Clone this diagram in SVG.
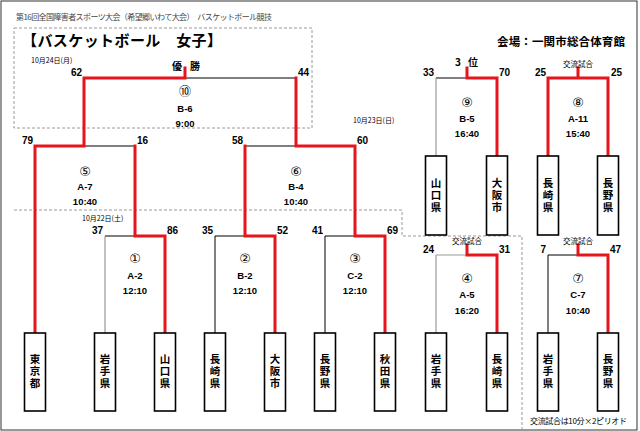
<svg xmlns="http://www.w3.org/2000/svg" width="640" height="431" viewBox="0 0 640 431">
<style>
text{font-family:"Liberation Sans","Noto Sans CJK JP",sans-serif;fill:#000}
.sc{font-size:10px;font-weight:bold}
.l{text-anchor:end}
.c{text-anchor:middle}
.mt{font-size:9.5px;font-weight:bold;text-anchor:middle}
.cn{font-size:13px;text-anchor:middle;font-family:"DejaVu Sans","Noto Sans CJK JP",sans-serif}
.cn2{font-size:12px;text-anchor:middle;font-family:"Noto Sans CJK JP",sans-serif}
.dt{font-size:7px;font-family:"Noto Sans CJK JP",sans-serif}
.ex{font-size:7.5px;text-anchor:middle;font-family:"Noto Sans CJK JP",sans-serif}
.tb rect{fill:#fff;stroke:#000;stroke-width:1.6}
.tb text{font-size:10.5px;font-weight:bold;text-anchor:middle;font-family:"Noto Sans CJK JP",sans-serif;writing-mode:vertical-rl;letter-spacing:1.5px}
.red{fill:none;stroke:#e8141b;stroke-width:3;stroke-linecap:square}
.blk{fill:none;stroke:#000;stroke-width:1}
.gry{fill:none;stroke:#999;stroke-width:1.2}
.dash{fill:none;stroke:#9a9a9a;stroke-width:1;stroke-dasharray:3 2}
</style>
<rect x="1" y="1" width="636" height="429" fill="#fff" stroke="#333" stroke-width="1"/>
<g id="frames">
<rect class="dash" x="14" y="28" width="298" height="100"/>
<path class="dash" d="M14,210 H402 V236 H522 V430"/>
</g>
<g id="header">
<text x="16" y="20" style="font-size:8px;fill:#444;font-family:'Noto Sans CJK JP',sans-serif" textLength="256">第16回全国障害者スポーツ大会（希望郷いわて大会）　バスケットボール競技</text>
<text x="22" y="46" style="font-size:15px;font-weight:bold;font-family:'Noto Sans CJK JP',sans-serif" textLength="200">【バスケットボール　女子】</text>
<text x="497" y="46" style="font-size:11.5px;font-weight:bold;font-family:'Noto Sans CJK JP',sans-serif" textLength="128">会場：一関市総合体育館</text>
<text class="dt" x="31" y="63">10月24日(月)</text>
<text class="dt" x="353" y="123">10月23日(日)</text>
<text class="dt" x="82" y="221">10月22日(土)</text>
<text x="530" y="424" style="font-size:8px;font-family:'Noto Sans CJK JP',sans-serif" textLength="97">交流試合は10分×2ピリオド</text>
</g>
<g id="connectors">
<path class="blk" d="M185,78 H296 M84,146 H135 M245,146 H296 M215,236 H245 M215,236 V333 M325,236 H355 M325,236 V333 M105,236 H135 M436,78 H467 M548,255 H578 M548,255 V333"/>
<path class="gry" d="M105,236 V333 M436,78 V156 M436,255 H467 M436,255 V333"/>
<path class="red" d="M185,68 V78 M84,78 H185 M84,78 V146 M296,78 V146 M35,146 H84 M35,146 V333 M135,146 V236 H165 V333 M296,146 H355 M245,146 V236 H275 V333 M355,146 V236 H385 V333 M467,68 V78 H497 V156 M578,68 V78 M548,78 H608 M548,78 V156 M608,78 V156 M467,245 V255 H497 V333 M578,245 V255 H608 V333"/>
</g>
<g id="m10">
<text x="172" y="70" textLength="28" style="font-size:10px;font-weight:bold;font-family:'Noto Sans CJK JP',sans-serif">優 勝</text>
<text class="sc l" x="82" y="76">62</text><text class="sc" x="298" y="76">44</text>
<text class="cn2" x="185" y="96">⑩</text><text class="mt" x="185" y="112">B-6</text><text class="mt" x="185" y="127">9:00</text>
</g>
<g id="m5">
<text class="sc l" x="33" y="144">79</text><text class="sc" x="137" y="144">16</text>
<text class="cn" x="85" y="176">⑤</text><text class="mt" x="85" y="190">A-7</text><text class="mt" x="85" y="205">10:40</text>
</g>
<g id="m6">
<text class="sc l" x="243" y="144">58</text><text class="sc" x="357" y="144">60</text>
<text class="cn" x="296" y="176">⑥</text><text class="mt" x="296" y="190">B-4</text><text class="mt" x="296" y="205">10:40</text>
</g>
<g id="m1">
<text class="sc l" x="103" y="234">37</text><text class="sc" x="167" y="234">86</text>
<text class="cn" x="135" y="263">①</text><text class="mt" x="135" y="279">A-2</text><text class="mt" x="135" y="294">12:10</text>
</g>
<g id="m2">
<text class="sc l" x="213" y="234">35</text><text class="sc" x="277" y="234">52</text>
<text class="cn" x="245" y="263">②</text><text class="mt" x="245" y="279">B-2</text><text class="mt" x="245" y="294">12:10</text>
</g>
<g id="m3">
<text class="sc l" x="323" y="234">41</text><text class="sc" x="387" y="234">69</text>
<text class="cn" x="355" y="263">③</text><text class="mt" x="355" y="279">C-2</text><text class="mt" x="355" y="294">12:10</text>
</g>
<g id="m9">
<text x="455" y="66" textLength="23" style="font-size:10px;font-weight:bold;font-family:'Noto Sans CJK JP',sans-serif">3 位</text>
<text class="sc l" x="434" y="76">33</text><text class="sc" x="499" y="76">70</text>
<text class="cn" x="467" y="107">⑨</text><text class="mt" x="467" y="122">B-5</text><text class="mt" x="467" y="137">16:40</text>
</g>
<g id="m8">
<text class="ex" x="578" y="67">交流試合</text>
<text class="sc l" x="546" y="76">25</text><text class="sc" x="611" y="76">25</text>
<text class="cn" x="578" y="107">⑧</text><text class="mt" x="578" y="122">A-11</text><text class="mt" x="578" y="137">15:40</text>
</g>
<g id="m4">
<text class="ex" x="467" y="244">交流試合</text>
<text class="sc l" x="434" y="253">24</text><text class="sc" x="499" y="253">31</text>
<text class="cn" x="467" y="283">④</text><text class="mt" x="467" y="298">A-5</text><text class="mt" x="467" y="314">16:20</text>
</g>
<g id="m7">
<text class="ex" x="578" y="244">交流試合</text>
<text class="sc l" x="546" y="253">7</text><text class="sc" x="610" y="253">47</text>
<text class="cn" x="578" y="283">⑦</text><text class="mt" x="578" y="298">C-7</text><text class="mt" x="578" y="314">10:40</text>
</g>
<g id="t1" class="tb"><rect x="24.5" y="333" width="21" height="78"/><text x="35" y="372">東京都</text></g>
<g id="t2" class="tb"><rect x="94.5" y="333" width="21" height="78"/><text x="105" y="372">岩手県</text></g>
<g id="t3" class="tb"><rect x="154.5" y="333" width="21" height="78"/><text x="165" y="372">山口県</text></g>
<g id="t4" class="tb"><rect x="204.5" y="333" width="21" height="78"/><text x="215" y="372">長崎県</text></g>
<g id="t5" class="tb"><rect x="264.5" y="333" width="21" height="78"/><text x="275" y="372">大阪市</text></g>
<g id="t6" class="tb"><rect x="314.5" y="333" width="21" height="78"/><text x="325" y="372">長野県</text></g>
<g id="t7" class="tb"><rect x="374.5" y="333" width="21" height="78"/><text x="385" y="372">秋田県</text></g>
<g id="t8" class="tb"><rect x="425.5" y="333" width="21" height="78"/><text x="436" y="372">岩手県</text></g>
<g id="t9" class="tb"><rect x="486.5" y="333" width="21" height="78"/><text x="497" y="372">長崎県</text></g>
<g id="t10" class="tb"><rect x="537.5" y="333" width="21" height="78"/><text x="548" y="372">岩手県</text></g>
<g id="t11" class="tb"><rect x="597.5" y="333" width="21" height="78"/><text x="608" y="372">長野県</text></g>
<g id="t12" class="tb"><rect x="425.5" y="156" width="21" height="79"/><text x="436" y="195.5">山口県</text></g>
<g id="t13" class="tb"><rect x="486.5" y="156" width="21" height="79"/><text x="497" y="195.5">大阪市</text></g>
<g id="t14" class="tb"><rect x="537.5" y="156" width="21" height="79"/><text x="548" y="195.5">長崎県</text></g>
<g id="t15" class="tb"><rect x="597.5" y="156" width="21" height="79"/><text x="608" y="195.5">長野県</text></g>
</svg>
